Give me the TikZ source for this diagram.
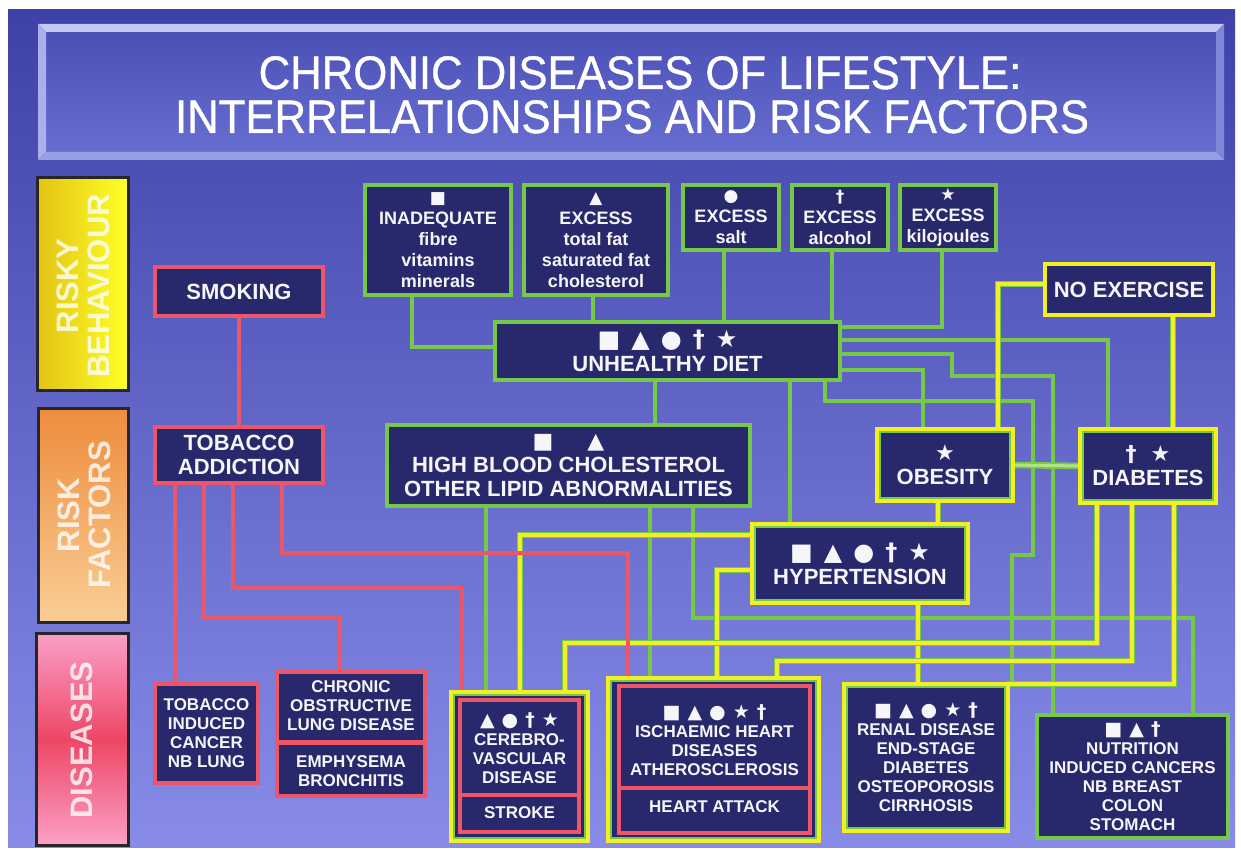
\documentclass[tikz,border=0pt]{standalone}
\usepackage{fontspec}
\setmainfont{Liberation Sans}
\newfontfamily\symfont{DejaVu Sans}
\newfontfamily\titlefont{Liberation Sans}[FakeStretch=0.93, FakeBold=0.8]

\definecolor{navy}{RGB}{40,40,108}
\definecolor{redc}{RGB}{236,86,104}
\definecolor{greenc}{RGB}{118,200,72}
\definecolor{lgreen}{RGB}{176,230,130}
\definecolor{yellowc}{RGB}{242,240,36}
\definecolor{bgtop}{RGB}{62,66,168}
\definecolor{bgbot}{RGB}{136,140,232}
\definecolor{facetop}{RGB}{74,80,182}
\definecolor{facebot}{RGB}{104,110,208}
\definecolor{bevtop}{RGB}{196,200,244}
\definecolor{bevleft}{RGB}{170,176,236}
\definecolor{bevright}{RGB}{128,134,214}
\definecolor{bevbot}{RGB}{152,158,228}
\definecolor{txt}{RGB}{246,246,250}
\definecolor{ylwA}{RGB}{226,196,20}
\definecolor{ylwB}{RGB}{255,255,40}
\definecolor{orgA}{RGB}{238,140,60}
\definecolor{orgB}{RGB}{250,206,150}
\definecolor{pnkA}{RGB}{250,160,200}
\definecolor{pnkB}{RGB}{238,70,100}

\pgfdeclarelayer{back}
\pgfdeclarelayer{wires}
\pgfsetlayers{back,wires,main}

\newcommand\fMain{\fontsize{22}{24}\selectfont\bfseries}
\newcommand\fTop{\fontsize{18}{21}\selectfont\bfseries}
\newcommand\fDis{\fontsize{17}{19}\selectfont\bfseries}
\newcommand\fCat{\fontsize{31}{31}\selectfont\bfseries}
\newcommand\fTitle{\titlefont\fontsize{47}{50}\selectfont}
\newcommand\syms[2]{{\symfont\fontsize{#1}{#1}\selectfont #2}}
\newcommand\sgap{\hspace{11pt}}

\tikzset{
  every node/.style={text=txt, align=center, inner sep=0pt},
  box/.style={draw=#1, line width=4pt, fill=navy, font=\fMain},
  rbox/.style={box=redc},
  gbox/.style={box=greenc},
  ybox/.style={box=yellowc},
  ygbox/.style={draw=greenc, line width=2pt, fill=navy, font=\fMain,
                preaction={draw=yellowc, line width=10pt}},
  frame/.style={draw=greenc, line width=2pt, fill=navy,
                preaction={draw=yellowc, line width=10pt}},
  dtext/.style={font=\fDis},
  ttext/.style={font=\fTop},
  rw/.style={draw=redc, line width=4pt},
  gw/.style={draw=greenc, line width=3.5pt},
  yw/.style={draw=greenc, line width=1.2pt, double=yellowc, double distance=4.5pt},
  catline/.style={draw=black!85, line width=3pt},
  cattext/.style={rotate=90, font=\fCat, text=white, text opacity=0.8},
}

\begin{document}
\begin{tikzpicture}[x=1pt,y=-1pt]
\useasboundingbox (0,0) rectangle (1241,850);

% ---------- background, title banner and row labels ----------
\begin{pgfonlayer}{back}
  \fill[white] (0,0) rectangle (1241,850);
  \shade[top color=bgtop, bottom color=bgbot] (8,10) rectangle (1235,847);
  % bevelled banner
  \shade[top color=facetop, bottom color=facebot] (46,32) rectangle (1216,152);
  \fill[bevtop] (38,24) -- (1224,24) -- (1216,32) -- (46,32) -- cycle;
  \fill[bevleft] (38,24) -- (46,32) -- (46,152) -- (38,160) -- cycle;
  \fill[bevright] (1224,24) -- (1224,160) -- (1216,152) -- (1216,32) -- cycle;
  \fill[bevbot] (38,160) -- (46,152) -- (1216,152) -- (1224,160) -- cycle;
  % row labels
  \shade[left color=ylwA, right color=ylwB] (37,178) rectangle (128,390);
  \draw[catline] (37,178) rectangle (128,390);
  \shade[top color=orgA, bottom color=orgB] (38,408) rectangle (128,622);
  \draw[catline] (38,408) rectangle (128,622);
  \shade[top color=pnkA, bottom color=pnkA, middle color=pnkB] (36,633) rectangle (128,845);
  \draw[catline] (36,633) rectangle (128,845);
\end{pgfonlayer}

\node[font=\fTitle, anchor=base, text=white] (t1) at (640,89) {CHRONIC DISEASES OF LIFESTYLE:};
\node[font=\fTitle, anchor=base, text=white] (t2) at (632,133) {INTERRELATIONSHIPS AND RISK FACTORS};

\node[cattext] (labRB) at (83,286) {RISKY\\BEHAVIOUR};
\node[cattext] (labRF) at (84,515) {RISK\\FACTORS};
\node[cattext] (labD) at (82,740) {DISEASES};

% ---------- risky behaviour ----------
\node[rbox, minimum width=168pt, minimum height=49pt] (smoking) at (239,291.5) {SMOKING};
\node[gbox, ttext, minimum width=146pt, minimum height=110pt] (inadequate) at (438,240)
  {\syms{17}{■}\\INADEQUATE\\fibre\\vitamins\\minerals};
\node[gbox, ttext, minimum width=144pt, minimum height=110pt] (fat) at (596,240)
  {\syms{17}{▲}\\EXCESS\\total fat\\saturated fat\\cholesterol};
\node[gbox, ttext, minimum width=96pt, minimum height=65pt] (salt) at (731,217.5)
  {\syms{17}{●}\\EXCESS\\salt};
\node[gbox, ttext, minimum width=96pt, minimum height=65pt] (alcohol) at (840,217.5)
  {\syms{17}{†}\\EXCESS\\alcohol};
\node[gbox, ttext, minimum width=96pt, minimum height=65pt] (kj) at (948,217.5)
  {\syms{17}{★}\\EXCESS\\kilojoules};
\node[gbox, minimum width=345pt, minimum height=58pt] (diet) at (667.5,351)
  {\syms{24}{■\sgap▲\sgap●\sgap†\sgap★}\\UNHEALTHY DIET};
\node[ybox, minimum width=168pt, minimum height=51pt] (noex) at (1129,289.5) {NO EXERCISE};

% ---------- risk factors ----------
\node[rbox, minimum width=168pt, minimum height=56pt] (taddict) at (239,455) {TOBACCO\\ADDICTION};
\node[gbox, minimum width=363pt, minimum height=81pt] (hbc) at (568.5,465.5)
  {\syms{22}{■\hspace{34pt}▲}\\HIGH BLOOD CHOLESTEROL\\OTHER LIPID ABNORMALITIES};
\node[ygbox, minimum width=130pt, minimum height=66pt] (obesity) at (945,465)
  {\syms{22}{★}\\OBESITY};
\node[ygbox, minimum width=130pt, minimum height=68pt] (diabetes) at (1148,466)
  {\syms{22}{†\hspace{14pt}★}\\DIABETES};
\node[ygbox, minimum width=210pt, minimum height=73pt] (hyp) at (860,563.5)
  {\syms{24}{■\sgap▲\sgap●\sgap†\sgap★}\\HYPERTENSION};

% ---------- diseases ----------
\node[rbox, dtext, minimum width=103pt, minimum height=99pt] (cancer) at (206.5,733.5)
  {TOBACCO\\INDUCED\\CANCER\\NB LUNG};
\node[rbox, minimum width=148pt, minimum height=124pt] (copd) at (351,734) {};
\draw[redc, line width=5pt] (copd.west |- 0,742) -- (copd.east |- 0,742);
\node[dtext] (copdA) at (351,706) {CHRONIC\\OBSTRUCTIVE\\LUNG DISEASE};
\node[dtext] (copdB) at (351,771) {EMPHYSEMA\\BRONCHITIS};

\node[frame, minimum width=131pt, minimum height=143pt] (cvd) at (519.5,766.5) {};
\node[rbox, minimum width=119pt, minimum height=132pt] (cvdin) at (519.5,766) {};
\draw[redc, line width=4pt] (cvdin.west |- 0,795) -- (cvdin.east |- 0,795);
\node[dtext] (cvdA) at (519.5,748) {\syms{19}{▲\hspace{7pt}●\hspace{7pt}†\hspace{7pt}★}\\CEREBRO-\\VASCULAR\\DISEASE};
\node[dtext] (cvdB) at (519.5,813) {STROKE};

\node[frame, minimum width=205pt, minimum height=157pt] (ihd) at (713.5,759.5) {};
\node[rbox, minimum width=191pt, minimum height=147pt] (ihdin) at (714.5,759.5) {};
\draw[redc, line width=4pt] (ihdin.west |- 0,788) -- (ihdin.east |- 0,788);
\node[dtext] (ihdA) at (714.5,740) {\syms{19}{■\hspace{7pt}▲\hspace{7pt}●\hspace{7pt}★\hspace{7pt}†}\\ISCHAEMIC HEART\\DISEASES\\ATHEROSCLEROSIS};
\node[dtext] (ihdB) at (714.5,807) {HEART ATTACK};

\node[ygbox, dtext, minimum width=158pt, minimum height=141pt] (renal) at (926,757.5)
  {\syms{19}{■\hspace{7pt}▲\hspace{7pt}●\hspace{7pt}★\hspace{7pt}†}\\RENAL DISEASE\\END-STAGE\\DIABETES\\OSTEOPOROSIS\\CIRRHOSIS};
\node[gbox, dtext, minimum width=191pt, minimum height=123pt] (nutrition) at (1132.5,776.5)
  {\syms{19}{■\hspace{7pt}▲\hspace{7pt}†}\\NUTRITION\\INDUCED CANCERS\\NB BREAST\\COLON\\STOMACH};

% ---------- connectors ----------
\begin{pgfonlayer}{wires}
  % unhealthy diet and its parts
  \draw[gw] (inadequate.south -| 412,0) -- (412,347) -- (diet.west |- 0,347);
  \draw[gw] (fat.south -| 593,0) -- (diet.north -| 593,0);
  \draw[gw] (salt.south -| 724,0) -- (diet.north -| 724,0);
  \draw[gw] (alcohol.south -| 832,0) -- (diet.north -| 832,0);
  \draw[gw] (kj.south -| 942,0) -- (942,327) -- (diet.east |- 0,327);
  % diet to risk factors and diseases
  \draw[gw] (diet.east |- 0,340) -- (1108,340) -- (diabetes.north -| 1108,0);
  \draw[gw] (diet.east |- 0,354) -- (952,354) -- (952,376) -- (1053,376) -- (nutrition.north -| 1053,0);
  \draw[gw] (diet.east |- 0,370) -- (923,370) -- (obesity.north -| 923,0);
  \draw[gw] (diet.south -| 825,0) -- (825,401) -- (1033,401) -- (1033,555) -- (1012,555) -- (1012,0 |- renal.north);
  \draw[gw] (diet.south -| 790,0) -- (hyp.north -| 790,0);
  \draw[gw] (diet.south -| 655,0) -- (hbc.north -| 655,0);
  % cholesterol to diseases
  \draw[gw] (hbc.south -| 486,0) -- (cvd.north -| 486,0);
  \draw[gw] (hbc.south -| 650,0) -- (ihd.north -| 650,0);
  \draw[gw] (hbc.south -| 693,0) -- (693,618) -- (1193,618) -- (nutrition.north -| 1193,0);
  \draw[draw=greenc, line width=1.8pt, double=lgreen, double distance=3pt] (obesity.east) -- (diabetes.west);
  % exercise, obesity, diabetes, hypertension
  \draw[yw] (noex.west |- 0,284) -- (998,284) -- (obesity.north -| 998,0);
  \draw[yw] (noex.south -| 1173,0) -- (diabetes.north -| 1173,0);
  \draw[yw] (obesity.south -| 938,0) -- (hyp.north -| 938,0);
  \draw[yw] (hyp.west |- 0,535) -- (520,535) -- (cvd.north -| 520,0);
  \draw[yw] (hyp.west |- 0,570) -- (717,570) -- (ihd.north -| 717,0);
  \draw[yw] (hyp.south -| 918,0) -- (renal.north -| 918,0);
  \draw[yw] (diabetes.south -| 1097,0) -- (1097,643) -- (565,643) -- (cvd.north -| 565,0);
  \draw[yw] (diabetes.south -| 1132,0) -- (1132,661) -- (777,661) -- (ihd.north -| 777,0);
  \draw[yw] (diabetes.south -| 1174,0) -- (1174,684) -- (renal.east |- 0,684);
  % tobacco
  \draw[rw] (smoking.south) -- (taddict.north);
  \draw[rw] (taddict.south -| 175,0) -- (cancer.north -| 175,0);
  \draw[rw] (taddict.south -| 204,0) -- (204,618) -- (340,618) -- (copd.north -| 340,0);
  \draw[rw] (taddict.south -| 233,0) -- (233,588) -- (462,588) -- (cvdin.north -| 462,0);
  \draw[rw] (taddict.south -| 282,0) -- (282,553) -- (628,553) -- (ihdin.north -| 628,0);
\end{pgfonlayer}
\end{tikzpicture}
\end{document}
